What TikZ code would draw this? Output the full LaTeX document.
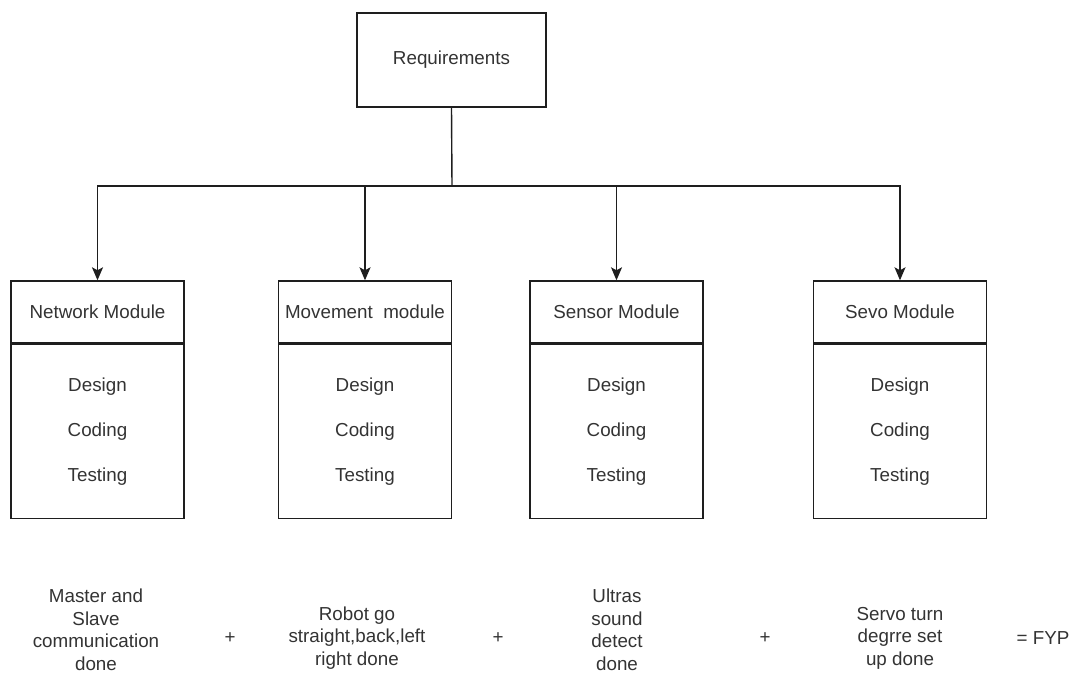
\documentclass[tikz,border=0pt]{standalone}
\usepackage{fontspec}
\setmainfont{Liberation Sans}
\usepackage{tikz}
\usetikzlibrary{arrows.meta}
\usetikzlibrary{positioning}

\definecolor{inkline}{HTML}{1E1E1E}
\definecolor{inktext}{HTML}{333333}

\tikzset{
    box/.style = {rectangle, draw = inkline, line width = 1.4pt, inner sep = 0pt,
                  text = inktext, font = \fontsize{18.8}{23.5}\selectfont},
    link/.style = {draw = inkline, line width = 1.4pt},
    note/.style = {align = center, text = inktext, inner sep = 0pt,
                   font = \fontsize{18.8}{22.5}\selectfont}
}

\begin{document}
\begin{tikzpicture}[x = 1pt, y = -1pt]
                \useasboundingbox (0,0) rectangle (1082,677);

                % Draw the requirements box:
                \node [box, minimum width = 189pt, minimum height = 94pt] (req) at (451.5,60) {Requirements};
                \coordinate (split) at (452,186);
                \draw [link] (req.south) -- (split);

                % Draw the module boxes:
                \foreach \cx/\mname/\mtitle in {97.5/net/Network Module, 365/move/Movement\ \ module,
                                                616.5/sens/Sensor Module, 900/sevo/Sevo Module}
                {
                    \node [box, minimum width = 173pt, minimum height = 62pt] (\mname-head) at (\cx,312) {\mtitle};
                    \node [box, minimum width = 173pt, minimum height = 174pt, align = center,
                           font = \fontsize{18.8}{45}\selectfont, below = 0pt of \mname-head] (\mname-body)
                          {Design\\Coding\\Testing};
                    \draw [link, -{Stealth[length = 13pt, width = 11pt, inset = 3pt]}] (split) -| (\mname-head.north);
                }

                % Draw the sum at the bottom:
                \node [note] (netdone)  at ( 96,630) {Master and\\Slave\\communication\\done};
                \node [note] (plusa)    at (230,638) {+};
                \node [note] (movedone) at (357,638) {Robot go\\straight,back,left\\right done};
                \node [note] (plusb)    at (498,638) {+};
                \node [note] (sensdone) at (617,630) {Ultras\\sound\\detect\\done};
                \node [note] (plusc)    at (765,638) {+};
                \node [note] (sevodone) at (900,638) {Servo turn\\degrre set\\up done};
                \node [note] (fyp)      at (1043,638) {= FYP};
            \end{tikzpicture}
\end{document}
